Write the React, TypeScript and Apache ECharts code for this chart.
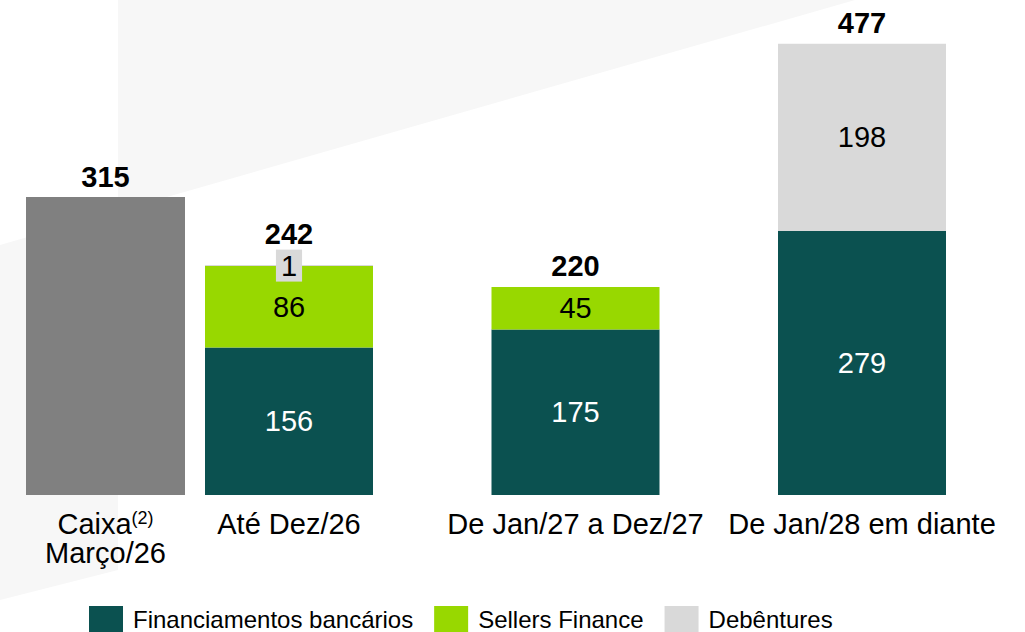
import React, { useEffect, useRef } from "react";
import * as echarts from "echarts";

const categories = ["Até Dez/26", "De Jan/27 a Dez/27", "De Jan/28 em diante"];
const cashCategory = ["Caixa"];
const cashValue = [315];
const bankLoans = [156, 175, 279];
const sellersFinance = [86, 45, null];
const debentures = [1, null, 198];
const totals = [242, 220, 477];
const seriesNames = ["Financiamentos bancários", "Sellers Finance", "Debêntures"];

const FONT = "'Liberation Sans', Arial, sans-serif";
const TEAL = "#0b5150";
const LIME = "#98d800";
const LIGHT = "#d9d9d9";
const CASH = "#808080";

export default function App() {
  const ref = useRef<HTMLDivElement>(null);
  useEffect(() => {
    document.body.style.margin = "0";
    const chart = echarts.init(ref.current!, null, { renderer: "svg" });
    const gridTop = 22;
    const gridBottom = 137;
    const valueLabel = (color: string) => ({
      show: true,
      position: "inside",
      color,
      fontFamily: FONT,
      fontSize: 29,
      formatter: (p: any) => (p.value == null ? "" : String(p.value)),
    });
    const totalLabel = {
      show: true,
      position: "top",
      distance: 6,
      color: "#000",
      fontFamily: FONT,
      fontSize: 29,
      fontWeight: "bold",
    };
    chart.setOption({
      animation: false,
      backgroundColor: "#ffffff",
      graphic: [
        {
          type: "polygon",
          z: -10,
          silent: true,
          shape: { points: [[118, 0], [855, 0], [118, 211]] },
          style: { fill: "#f7f7f7" },
        },
        {
          type: "polygon",
          z: -10,
          silent: true,
          shape: { points: [[0, 245], [118, 211], [118, 570], [0, 600]] },
          style: { fill: "#f7f7f7" },
        },
      ],
      legend: {
        left: 89,
        top: 606,
        padding: 0,
        itemWidth: 34,
        itemHeight: 26,
        itemGap: 21,
        icon: "rect",
        data: seriesNames,
        textStyle: { fontFamily: FONT, fontSize: 24, color: "#000", padding: [0, 0, 2, 5] },
        selectedMode: false,
      },
      grid: [
        { left: 26, width: 159, top: gridTop, bottom: gridBottom },
        { left: 145.75, right: 19.75, top: gridTop, bottom: gridBottom },
      ],
      xAxis: [
        {
          type: "category",
          gridIndex: 0,
          data: cashCategory,
          axisLine: { show: false },
          axisTick: { show: false },
          axisLabel: {
            margin: 14,
            interval: 0,
            formatter: (v: string) => `{a|${v}}{sup|(2)}\n{a|Março/26}`,
            rich: {
              a: { fontFamily: FONT, fontSize: 29, lineHeight: 29, color: "#000" },
              sup: { fontFamily: FONT, fontSize: 18, lineHeight: 18, color: "#000", verticalAlign: "top" },
            },
          },
        },
        {
          type: "category",
          gridIndex: 1,
          data: categories,
          axisLine: { show: false },
          axisTick: { show: false },
          axisLabel: {
            margin: 14,
            interval: 0,
            fontFamily: FONT,
            fontSize: 29,
            lineHeight: 29,
            color: "#000",
          },
        },
      ],
      yAxis: [
        { type: "value", gridIndex: 0, min: 0, max: 500, show: false },
        { type: "value", gridIndex: 1, min: 0, max: 500, show: false },
      ],
      series: [
        {
          name: "Caixa",
          type: "bar",
          xAxisIndex: 0,
          yAxisIndex: 0,
          barWidth: 159,
          data: cashValue,
          itemStyle: { color: CASH },
          label: totalLabel,
        },
        {
          name: seriesNames[0],
          type: "bar",
          xAxisIndex: 1,
          yAxisIndex: 1,
          stack: "debt",
          barWidth: 168,
          data: bankLoans,
          itemStyle: { color: TEAL },
          label: valueLabel("#ffffff"),
        },
        {
          name: seriesNames[1],
          type: "bar",
          xAxisIndex: 1,
          yAxisIndex: 1,
          stack: "debt",
          barWidth: 168,
          data: sellersFinance,
          itemStyle: { color: LIME },
          label: valueLabel("#000"),
        },
        {
          name: seriesNames[2],
          type: "bar",
          xAxisIndex: 1,
          yAxisIndex: 1,
          stack: "debt",
          barWidth: 168,
          data: debentures.map((v) =>
            v != null && v < 10
              ? { value: v, label: { backgroundColor: LIGHT, padding: [2, 5, 2, 5], lineHeight: 28 } }
              : v
          ),
          itemStyle: { color: LIGHT },
          label: valueLabel("#000"),
        },
        {
          name: "Total",
          type: "bar",
          xAxisIndex: 1,
          yAxisIndex: 1,
          stack: "debt",
          barWidth: 168,
          data: totals.map((t, i) => ({
            value: 0,
            label: {
              formatter: String(t),
              distance: debentures[i] != null && (debentures[i] as number) < 10 ? 17 : 6,
            },
          })),
          itemStyle: { color: "transparent" },
          label: totalLabel,
        },
      ],
    });
    return () => chart.dispose();
  }, []);
  return (
    <div
      ref={ref}
      style={{ position: "fixed", left: 0, top: 0, width: 1025, height: 632 }}
    />
  );
}
